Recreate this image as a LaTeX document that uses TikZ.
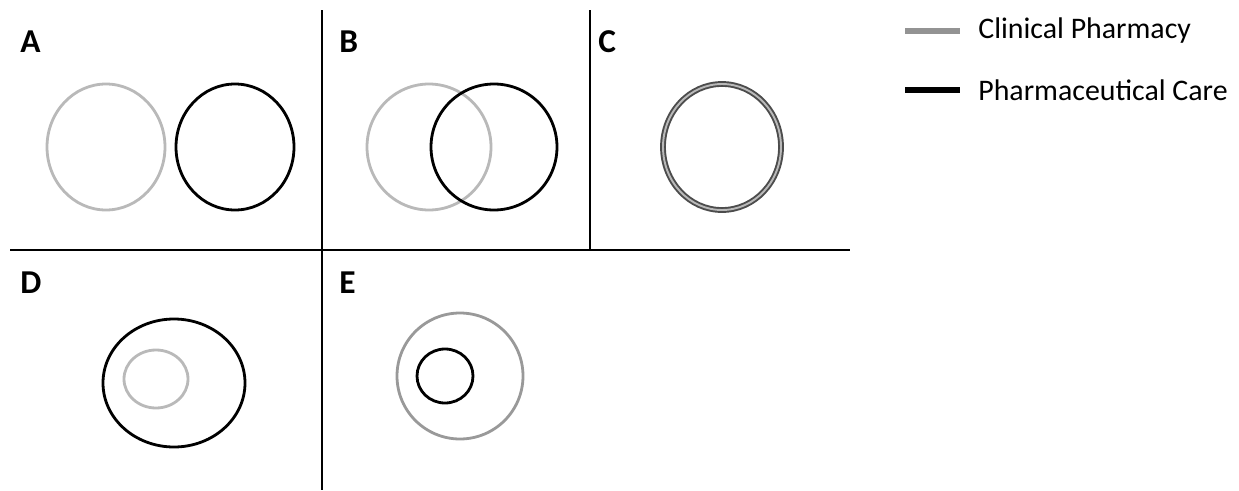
\documentclass[tikz,border=0pt]{standalone}
\usepackage{fontspec}
\setmainfont{Carlito}
\usepackage{tikz}
\usetikzlibrary{positioning}

\begin{document}
\begin{tikzpicture}[
  x=0.02cm, y=-0.02cm,
  font=\fontsize{17}{20}\selectfont,
  panel/.style={font=\fontsize{19}{22}\selectfont\bfseries, anchor=west, inner sep=0pt},
  grid/.style={line width=0.6pt, black},
  clin/.style={line width=1.6pt, gray!55},
  clinmid/.style={line width=1.6pt, gray!80},
  care/.style={line width=1.6pt, black},
  both/.style={line width=1.1pt, draw=black!70, double=gray!55, double distance=1.1pt},
  legline/.style={line width=3.3pt},
  legtext/.style={anchor=west, inner sep=0pt}
]
\useasboundingbox (0,0) rectangle (1239,490);

% frame
\draw[grid] (10,250) -- (850,250);
\draw[grid] (322,10) -- (322,490);
\draw[grid] (590,10) -- (590,250);

% panel letters
\node[panel] (la) at (20,42) {A};
\node[panel] (lb) at (339,42) {B};
\node[panel] (lc) at (598,42) {C};
\node[panel] (ld) at (20,283) {D};
\node[panel] (le) at (339,283) {E};

% A: separate
\draw[clin] (106,147) ellipse [x radius=59, y radius=63];
\draw[care] (235,147) ellipse [x radius=59, y radius=63];

% B: overlapping
\draw[clin] (429,147) ellipse [x radius=62, y radius=63];
\draw[care] (494,147) ellipse [x radius=63, y radius=63];

% C: identical
\draw[both] (722,147) ellipse [x radius=59, y radius=63];

% D: clinical pharmacy inside
\draw[care] (174,383) ellipse [x radius=71, y radius=64];
\draw[clin] (156,379) ellipse [x radius=32, y radius=29];

% E: pharmaceutical care inside
\draw[clinmid] (460,376) ellipse [x radius=63, y radius=63];
\draw[care] (445,376) ellipse [x radius=28, y radius=27];

% legend
\node[legtext] (tclin) at (978,31) {Clinical Pharmacy};
\node[legtext] (tcare) at (978,90) {Pharmaceutical Care};
\draw[legline, gray!85] (905,31) -- (960,31);
\draw[legline, black] (905,90) -- (960,90);
\end{tikzpicture}
\end{document}
